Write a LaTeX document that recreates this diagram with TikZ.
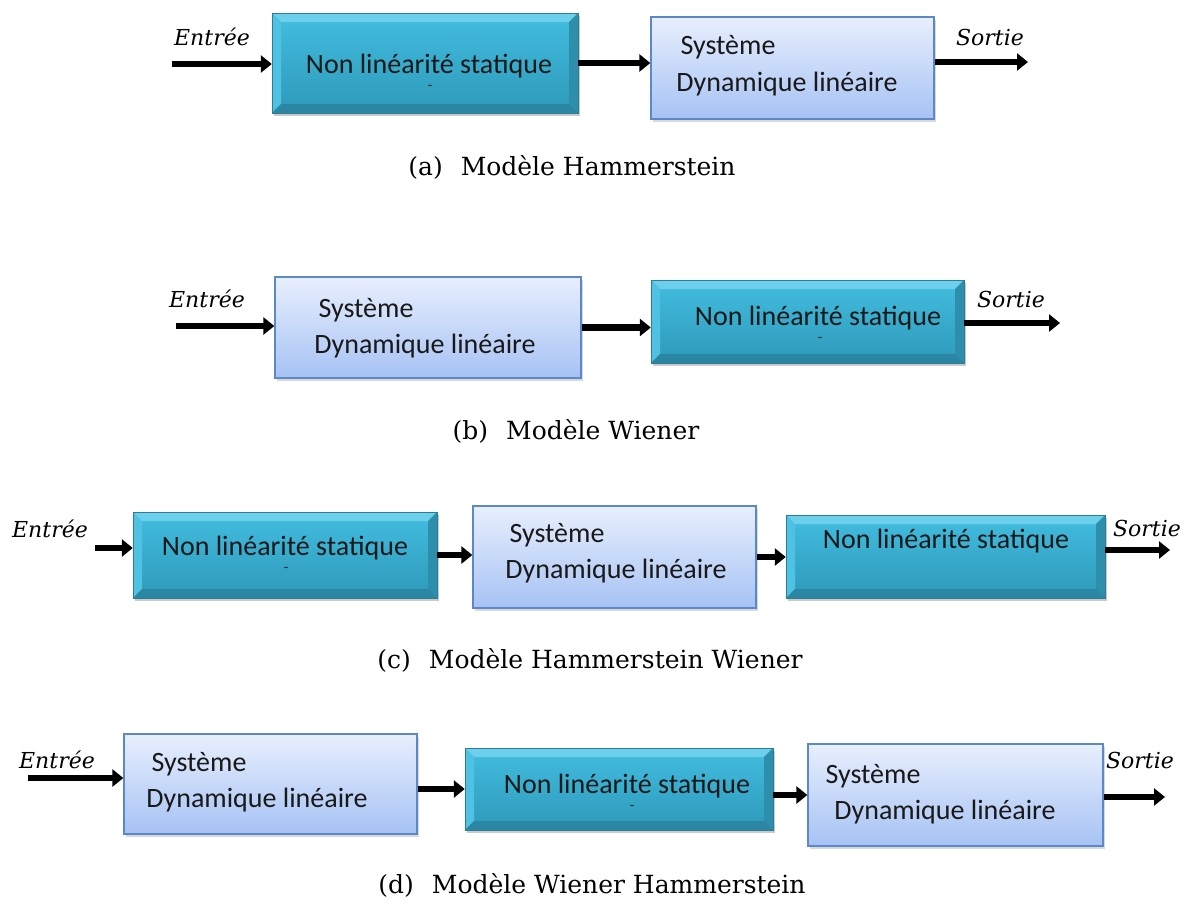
\documentclass[tikz,border=0pt]{standalone}
\usepackage{fontspec}
\setmainfont{DejaVu Serif}
\newfontfamily\boxfont{Carlito}
\newfontfamily\lblfont{DejaVu Serif}
\usetikzlibrary{arrows.meta,shadows,calc}
\definecolor{tealTop}{HTML}{42BDE0}
\definecolor{tealBot}{HTML}{2E99B9}
\definecolor{tealLight}{HTML}{6CCFEC}
\definecolor{tealDark}{HTML}{2A86A3}
\definecolor{tealEdge}{HTML}{2A7E98}
\definecolor{tealMidL}{HTML}{4FC2E3}
\definecolor{tealMidR}{HTML}{2E8FAD}
\definecolor{lbTop}{HTML}{E8EFFD}
\definecolor{lbBot}{HTML}{A6C2F4}
\definecolor{lbBorder}{HTML}{5B88C9}
\tikzset{
  x=1pt,y=-1pt,
  tealbox/.style={rectangle, inner sep=0pt, top color=tealTop, bottom color=tealBot,
    draw=tealEdge, line width=0.4pt,
    drop shadow={shadow xshift=2pt, shadow yshift=-3pt, opacity=0.35, fill=black!60},
    path picture={
      \fill[tealLight] (path picture bounding box.north west) -- (path picture bounding box.north east)
        -- ([xshift=-9pt,yshift=-9pt]path picture bounding box.north east) -- ([xshift=9pt,yshift=-9pt]path picture bounding box.north west) -- cycle;
      \fill[tealMidL] (path picture bounding box.north west) -- ([xshift=9pt,yshift=-9pt]path picture bounding box.north west)
        -- ([xshift=9pt,yshift=9pt]path picture bounding box.south west) -- (path picture bounding box.south west) -- cycle;
      \fill[tealMidR] (path picture bounding box.north east) -- ([xshift=-9pt,yshift=-9pt]path picture bounding box.north east)
        -- ([xshift=-9pt,yshift=9pt]path picture bounding box.south east) -- (path picture bounding box.south east) -- cycle;
      \fill[tealDark] (path picture bounding box.south west) -- (path picture bounding box.south east)
        -- ([xshift=-9pt,yshift=9pt]path picture bounding box.south east) -- ([xshift=9pt,yshift=9pt]path picture bounding box.south west) -- cycle;
    }},
  lightbox/.style={rectangle, inner sep=0pt, top color=lbTop, bottom color=lbBot,
    draw=lbBorder, line width=1.3pt,
    drop shadow={shadow xshift=2pt, shadow yshift=-3pt, opacity=0.3, fill=black!50}},
  boxtxt/.style={font=\boxfont\fontsize{28}{31}\selectfont, inner sep=0pt, text=black!90},
  tinydash/.style={font=\boxfont\fontsize{16}{18}\selectfont, inner sep=0pt, text=black!80},
  iolbl/.style={font=\lblfont\itshape\fontsize{22}{25}\selectfont, inner sep=0pt},
  caption/.style={font=\fontsize{25}{28}\selectfont, inner sep=0pt},
  arr/.style={line width=6.5pt, -{Triangle[length=11pt,width=17pt]}},
}
\newcommand{\capgap}{\hspace{18pt}}
\begin{document}
\begin{tikzpicture}
\useasboundingbox (0,0) rectangle (1194,905);
% ---------- (a) Hammerstein
\node[tealbox, minimum width=306pt, minimum height=100pt] (a1) at (425,63) {};
\node[lightbox, minimum width=283pt, minimum height=102pt] (a2) at (792.5,68) {};
\node[boxtxt] (a1t) at (429,66) {Non linéarité statique};
\node[tinydash] (a1d) at (430,88) {-};
\node[boxtxt] (a2t1) at (728,47) {Système};
\node[boxtxt] (a2t2) at (787,84) {Dynamique linéaire};
\node[iolbl] (ain) at (212,37) {Entrée};
\node[iolbl] (aout) at (990,37) {Sortie};
\coordinate (as) at (172,64);
\coordinate (ae) at (1028,62);
\draw[arr] (as) -- (as -| a1.west);
\draw[arr] (a1.east) -- (a1.east -| a2.west);
\draw[arr] (ae -| a2.east) -- (ae);
\node[caption] (capa) at (572,167) {(a)\capgap Modèle Hammerstein};
% ---------- (b) Wiener
\node[lightbox, minimum width=306pt, minimum height=101pt] (b1) at (428,327.5) {};
\node[tealbox, minimum width=313pt, minimum height=83pt] (b2) at (807.5,321.5) {};
\node[boxtxt] (b1t1) at (366,310) {Système};
\node[boxtxt] (b1t2) at (425,346) {Dynamique linéaire};
\node[boxtxt] (b2t) at (818,318) {Non linéarité statique};
\node[tinydash] (b2d) at (820,340) {-};
\node[iolbl] (bin) at (207,299) {Entrée};
\node[iolbl] (bout) at (1011,299) {Sortie};
\coordinate (bs) at (176,326);
\coordinate (be) at (1060,323);
\draw[arr] (bs) -- (bs -| b1.west);
\draw[arr] (b1.east) -- (b1.east -| b2.west);
\draw[arr] (be -| b2.east) -- (be);
\node[caption] (capb) at (576,431) {(b)\capgap Modèle Wiener};
% ---------- (c) Hammerstein Wiener
\node[tealbox, minimum width=304pt, minimum height=86pt] (c1) at (285,555) {};
\node[lightbox, minimum width=283pt, minimum height=102pt] (c2) at (614.5,557) {};
\node[tealbox, minimum width=319pt, minimum height=83pt] (c3) at (945.5,556.5) {};
\node[boxtxt] (c1t) at (285,548) {Non linéarité statique};
\node[tinydash] (c1d) at (286,570) {-};
\node[boxtxt] (c2t1) at (557,535) {Système};
\node[boxtxt] (c2t2) at (616,571) {Dynamique linéaire};
\node[boxtxt] (c3t) at (946,541) {Non linéarité statique};
\node[iolbl] (cin) at (50,529) {Entrée};
\node[iolbl] (cout) at (1147,528) {Sortie};
\coordinate (cs) at (95,548);
\coordinate (ce) at (1170,550);
\draw[arr] (cs) -- (cs -| c1.west);
\draw[arr] (c1.east) -- (c1.east -| c2.west);
\draw[arr] (c2.east) -- (c2.east -| c3.west);
\draw[arr] (ce -| c3.east) -- (ce);
\node[caption] (capc) at (590,660) {(c)\capgap Modèle Hammerstein Wiener};
% ---------- (d) Wiener Hammerstein
\node[lightbox, minimum width=293pt, minimum height=100pt] (d1) at (270.5,784) {};
\node[tealbox, minimum width=308pt, minimum height=82pt] (d2) at (619,789) {};
\node[lightbox, minimum width=295pt, minimum height=102pt] (d3) at (955.5,795) {};
\node[boxtxt] (d1t1) at (199,764) {Système};
\node[boxtxt] (d1t2) at (257,800) {Dynamique linéaire};
\node[boxtxt] (d2t) at (627,786) {Non linéarité statique};
\node[tinydash] (d2d) at (632,808) {-};
\node[boxtxt] (d3t1) at (873,776) {Système};
\node[boxtxt] (d3t2) at (945,812) {Dynamique linéaire};
\node[iolbl] (din) at (57,760) {Entrée};
\node[iolbl] (dout) at (1140,760) {Sortie};
\coordinate (ds) at (28,778);
\coordinate (de) at (1165,797);
\draw[arr] (ds) -- (ds -| d1.west);
\draw[arr] (d2.west -| d1.east) -- (d2.west);
\draw[arr] (d3.west -| d2.east) -- (d3.west);
\draw[arr] (de -| d3.east) -- (de);
\node[caption] (capd) at (592,885) {(d)\capgap Modèle Wiener Hammerstein};
\end{tikzpicture}
\end{document}
